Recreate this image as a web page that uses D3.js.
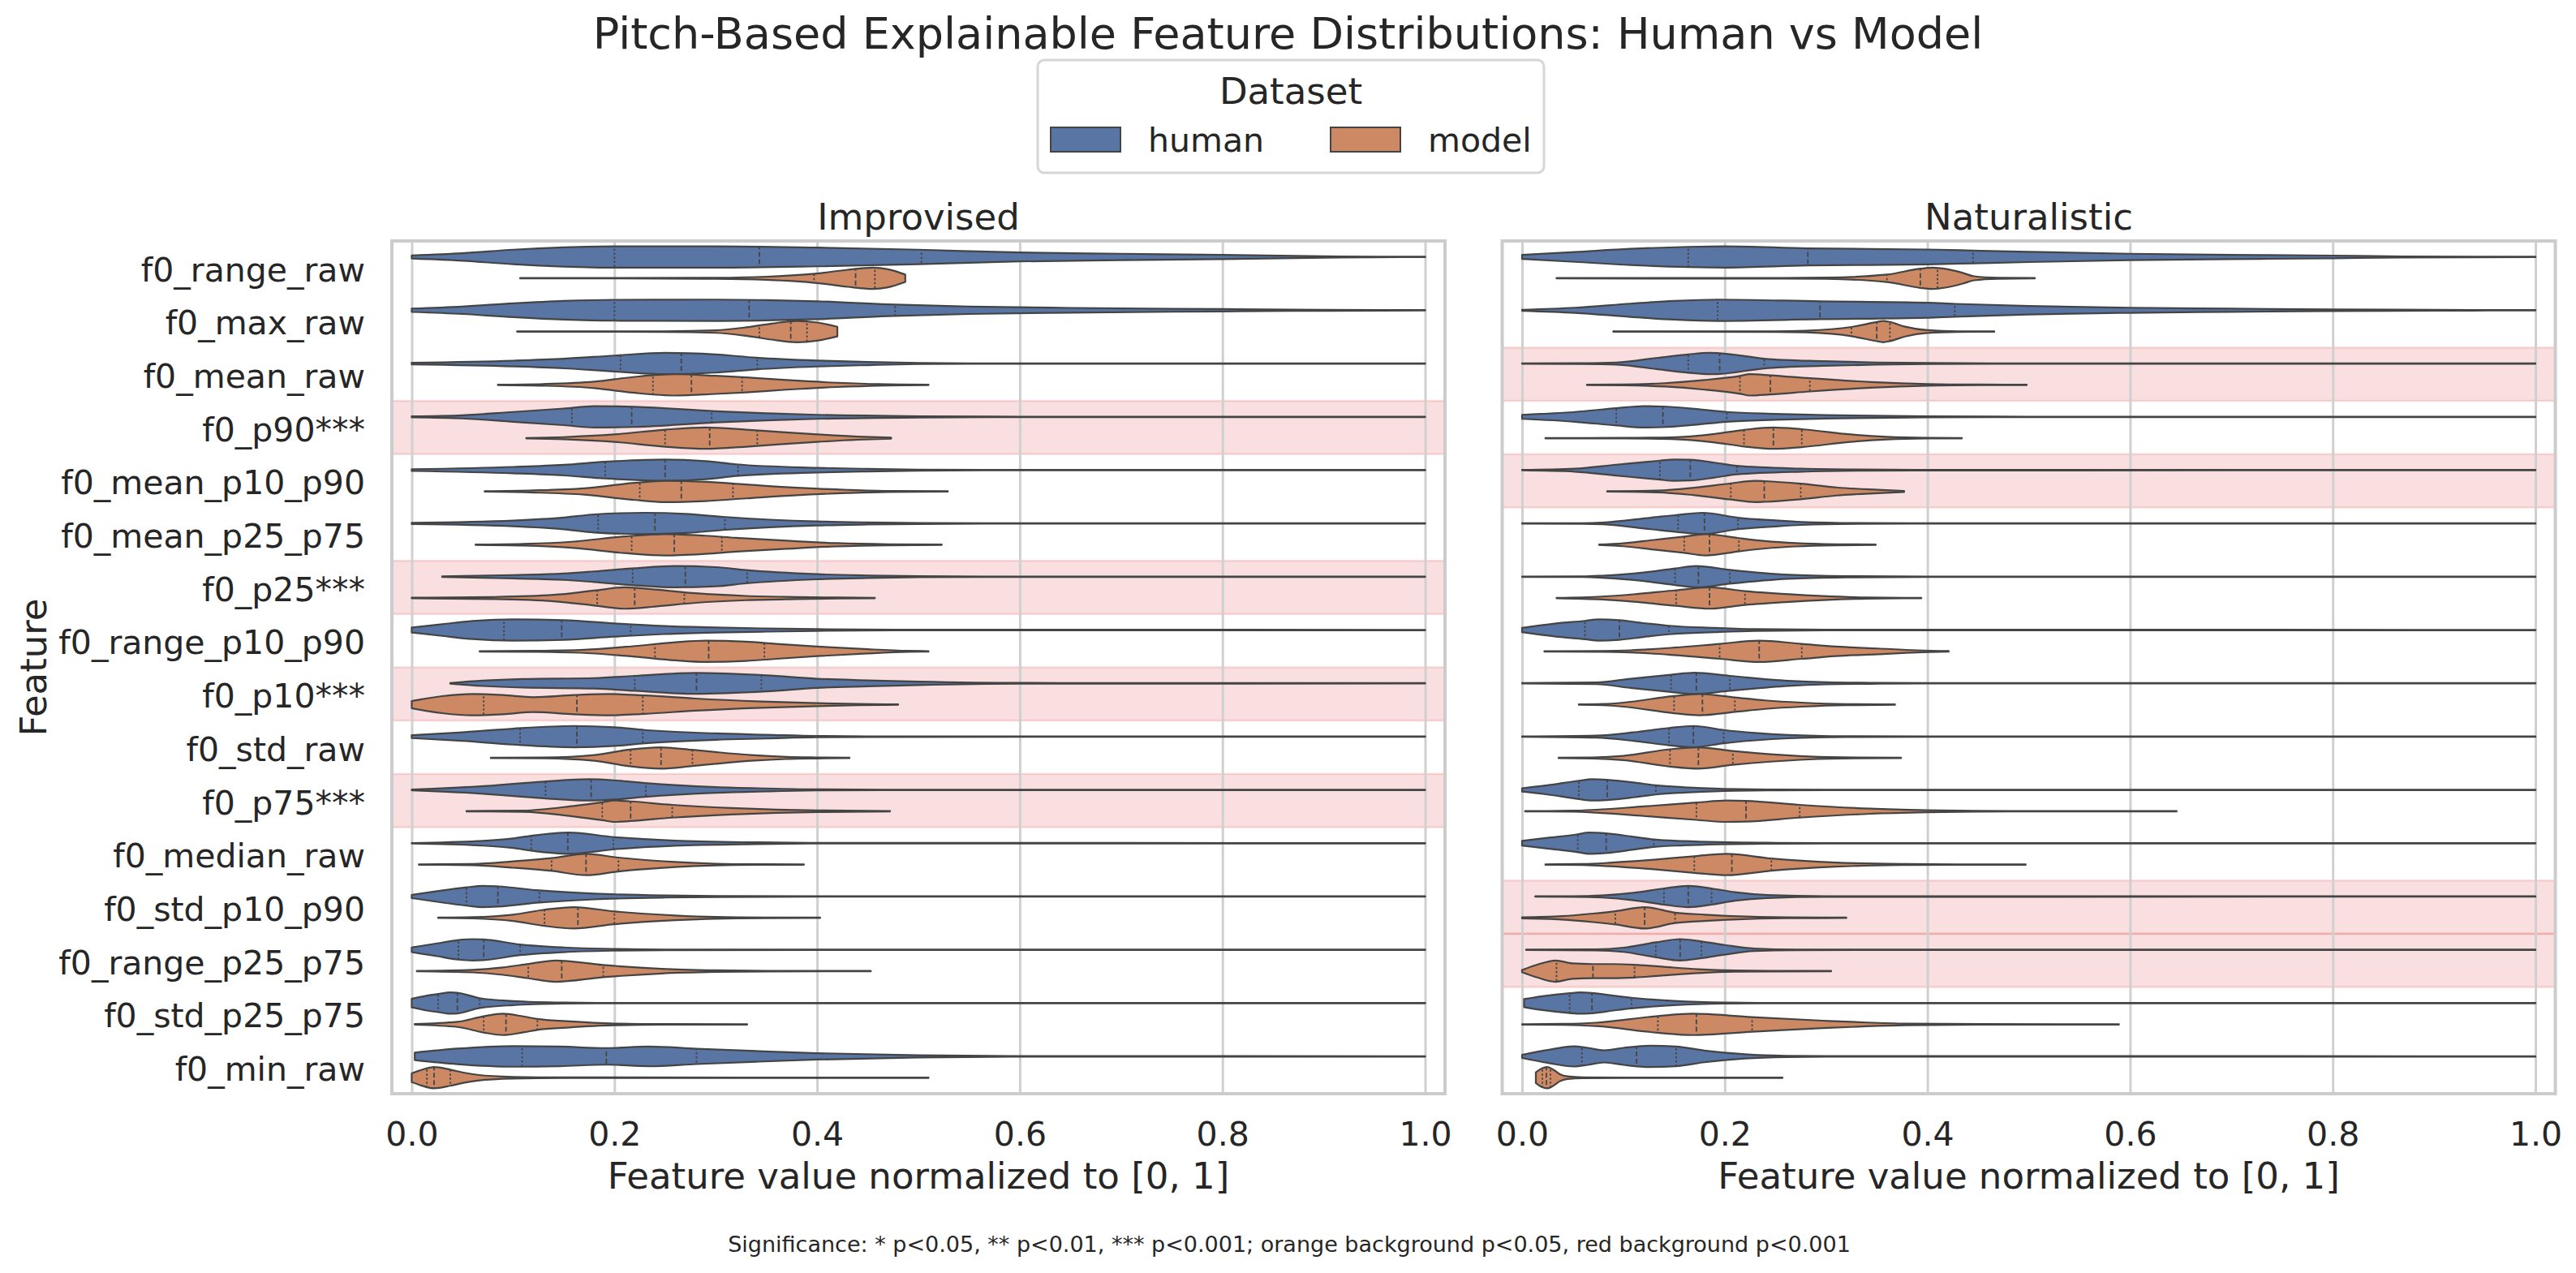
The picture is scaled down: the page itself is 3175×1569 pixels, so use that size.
<!DOCTYPE html>
<html>
<head>
<meta charset="utf-8">
<script src="https://cdn.jsdelivr.net/npm/d3@7"></script>
<style>
body { margin:0; background:#fff; }
text { font-family: "DejaVu Sans", sans-serif; fill:#262626; }
</style>
</head>
<body>
<script>
// categories
var features = ["f0_range_raw","f0_max_raw","f0_mean_raw","f0_p90","f0_mean_p10_p90","f0_mean_p25_p75",
  "f0_p25","f0_range_p10_p90","f0_p10","f0_std_raw","f0_p75","f0_median_raw","f0_std_p10_p90",
  "f0_range_p25_p75","f0_std_p25_p75","f0_min_raw"];
var tickLabels = ["f0_range_raw","f0_max_raw","f0_mean_raw","f0_p90***","f0_mean_p10_p90","f0_mean_p25_p75",
  "f0_p25***","f0_range_p10_p90","f0_p10***","f0_std_raw","f0_p75***","f0_median_raw","f0_std_p10_p90",
  "f0_range_p25_p75","f0_std_p25_p75","f0_min_raw"];
var datasets = ["human","model"];
var panels = ["Improvised","Naturalistic"];
var flaggedImprovised = ["f0_p90","f0_p25","f0_p10","f0_p75"];
var flaggedNaturalistic = ["f0_mean_raw","f0_mean_p10_p90","f0_std_p10_p90","f0_range_p25_p75"];
var xTicks = [0,0.2,0.4,0.6,0.8,1.0];

// quartiles [q1, median, q3] and density knots [value, relative width] per feature
var impHumanQuart = [[.2,.343,.503],[.2,.333,.477],[.206,.266,.341],[.158,.217,.296],[.191,.25,.322],[.184,.24,.309],
  [.218,.27,.331],[.091,.148,.216],[.22,.281,.345],[.107,.163,.228],[.132,.177,.231],[.118,.154,.199],
  [.054,.085,.126],[.046,.071,.107],[.026,.045,.067],[.109,.192,.281]];
var impHumanDens = [
  [[0,.14],[.05,.35],[.1,.68],[.15,.9],[.2,1],[.3,1],[.4,.88],[.5,.68],[.6,.42],[.7,.3],[.8,.2],[.9,.07],[.95,.03],[1,.02]],
  [[0,.16],[.05,.35],[.1,.65],[.15,.88],[.2,.98],[.3,1],[.35,.95],[.4,.84],[.47,.55],[.55,.35],[.65,.22],[.8,.11],[.9,.05],[1,.02]],
  [[0,.08],[.1,.27],[.15,.45],[.2,.75],[.25,1],[.3,.85],[.34,.55],[.4,.28],[.45,.15],[.5,.05],[.55,.02],[1,.02]],
  [[0,.05],[.05,.15],[.1,.46],[.15,.78],[.18,1],[.22,.95],[.3,.52],[.35,.33],[.4,.19],[.5,.06],[.6,.02],[1,.02]],
  [[0,.08],[.1,.3],[.15,.5],[.19,.78],[.25,1],[.29,.85],[.32,.55],[.4,.22],[.45,.12],[.5,.05],[.6,.02],[1,.02]],
  [[0,.06],[.1,.27],[.15,.55],[.18,.85],[.23,1],[.27,.9],[.31,.6],[.4,.19],[.45,.1],[.5,.05],[.6,.02],[1,.02]],
  [[.03,.03],[.1,.16],[.15,.3],[.18,.5],[.22,.8],[.26,1],[.3,.9],[.33,.62],[.4,.24],[.45,.12],[.5,.05],[.6,.02],[1,.02]],
  [[0,.24],[.03,.55],[.06,.85],[.1,1],[.15,.92],[.2,.62],[.25,.38],[.3,.24],[.35,.15],[.4,.08],[.5,.03],[1,.02]],
  [[.038,.03],[.07,.25],[.11,.4],[.18,.49],[.22,.7],[.28,.98],[.35,.75],[.4,.43],[.45,.28],[.5,.16],[.6,.04],[1,.02]],
  [[0,.14],[.05,.4],[.1,.75],[.16,1],[.2,.88],[.23,.62],[.3,.3],[.35,.18],[.4,.06],[.45,.03],[1,.02]],
  [[0,.04],[.065,.32],[.13,.78],[.175,1],[.2,.9],[.23,.65],[.3,.27],[.35,.14],[.4,.05],[.5,.02],[1,.02]],
  [[0,.02],[.065,.2],[.1,.45],[.118,.7],[.155,1],[.2,.57],[.26,.24],[.34,.08],[.4,.03],[1,.02]],
  [[0,.15],[.025,.5],[.054,.86],[.07,1],[.085,.95],[.126,.57],[.18,.27],[.25,.1],[.3,.05],[.4,.02],[1,.02]],
  [[0,.22],[.025,.6],[.046,.92],[.06,1],[.071,.97],[.107,.5],[.15,.22],[.2,.08],[.25,.03],[1,.02]],
  [[0,.4],[.015,.7],[.026,.85],[.038,1],[.045,.97],[.067,.46],[.1,.19],[.15,.05],[.2,.02],[1,.02]],
  [[.003,.35],[.045,.73],[.1,.97],[.146,.92],[.192,.78],[.234,.92],[.281,.72],[.34,.5],[.4,.3],[.5,.11],[.6,.03],[1,.02]]
];
var impModelQuart = [[.397,.438,.457],[.343,.374,.39],[.238,.276,.326],[.25,.294,.341],[.225,.266,.317],[.217,.259,.306],
  [.183,.22,.269],[.24,.293,.348],[.071,.163,.228],[.216,.246,.277],[.188,.216,.257],[.138,.172,.204],
  [.131,.164,.2],[.115,.148,.189],[.071,.093,.124],[.015,.022,.038]];
var impModelDens = [
  [[.107,.02],[.2,.02],[.3,.05],[.35,.15],[.4,.45],[.43,.8],[.455,1],[.47,.85],[.487,.35]],
  [[.104,.02],[.25,.03],[.3,.12],[.33,.4],[.355,.75],[.38,1],[.4,.85],[.42,.45]],
  [[.085,.02],[.13,.08],[.18,.3],[.22,.75],[.26,1],[.3,.85],[.33,.7],[.37,.45],[.42,.2],[.46,.07],[.51,.02]],
  [[.113,.02],[.15,.1],[.2,.35],[.25,.8],[.29,1],[.33,.8],[.36,.6],[.4,.35],[.44,.15],[.473,.05]],
  [[.072,.02],[.12,.1],[.17,.3],[.22,.8],[.25,1],[.29,.9],[.33,.65],[.38,.35],[.43,.15],[.47,.05],[.529,.02]],
  [[.063,.02],[.11,.08],[.16,.3],[.21,.78],[.25,1],[.29,.85],[.32,.65],[.37,.38],[.42,.15],[.47,.05],[.523,.02]],
  [[0,.03],[.08,.1],[.14,.3],[.18,.7],[.21,1],[.24,.8],[.28,.45],[.33,.2],[.38,.1],[.42,.05],[.457,.02]],
  [[.067,.02],[.12,.05],[.17,.15],[.22,.5],[.26,.85],[.29,1],[.33,.9],[.36,.7],[.4,.45],[.45,.2],[.49,.05],[.51,.02]],
  [[0,.34],[.03,.8],[.06,1],[.09,.9],[.12,.7],[.16,.9],[.195,1],[.23,.86],[.28,.57],[.345,.3],[.4,.14],[.44,.06],[.48,.02]],
  [[.078,.02],[.13,.04],[.18,.27],[.215,.78],[.245,1],[.277,.76],[.3,.55],[.335,.27],[.37,.1],[.4,.05],[.432,.02]],
  [[.054,.02],[.11,.06],[.16,.5],[.188,.84],[.2,1],[.216,.92],[.257,.6],[.315,.3],[.36,.15],[.4,.08],[.472,.02]],
  [[.007,.02],[.06,.06],[.1,.3],[.138,.6],[.172,1],[.204,.65],[.26,.24],[.3,.08],[.34,.03],[.387,.02]],
  [[.026,.02],[.06,.06],[.1,.3],[.131,.76],[.16,1],[.2,.6],[.26,.22],[.3,.08],[.35,.03],[.403,.02]],
  [[.005,.02],[.06,.12],[.09,.35],[.115,.67],[.142,1],[.189,.57],[.247,.22],[.3,.08],[.35,.03],[.453,.02]],
  [[.003,.03],[.045,.24],[.071,.76],[.09,1],[.11,.75],[.124,.51],[.153,.3],[.2,.08],[.25,.03],[.331,.02]],
  [[0,.41],[.01,.75],[.022,1],[.038,.76],[.05,.5],[.065,.27],[.1,.08],[.15,.03],[.51,.02]]
];
var natHumanQuart = [[.164,.282,.445],[.193,.294,.427],[.164,.195,.239],[.093,.139,.202],[.136,.166,.212],[.154,.18,.213],
  [.151,.174,.205],[.062,.096,.145],[.147,.172,.205],[.145,.169,.199],[.056,.084,.132],[.055,.083,.13],
  [.14,.164,.187],[.132,.156,.177],[.047,.069,.108],[.059,.113,.152]];
var natHumanDens = [
  [[0,.19],[.052,.46],[.107,.76],[.164,.95],[.2,1],[.282,.8],[.4,.7],[.445,.6],[.5,.48],[.6,.3],[.7,.2],[.8,.13],[.87,.05],[1,.02]],
  [[0,.05],[.052,.24],[.107,.62],[.15,.88],[.193,1],[.294,.84],[.4,.7],[.427,.6],[.5,.4],[.6,.24],[.7,.15],[.8,.08],[.9,.04],[1,.02]],
  [[0,.02],[.06,.04],[.093,.1],[.134,.54],[.164,.86],[.185,1],[.195,.97],[.239,.46],[.297,.22],[.35,.1],[.4,.05],[.5,.02],[1,.02]],
  [[0,.19],[.052,.46],[.093,.81],[.12,1],[.139,.97],[.17,.75],[.202,.46],[.25,.28],[.3,.16],[.4,.05],[.5,.02],[1,.02]],
  [[0,.02],[.052,.14],[.093,.51],[.136,.89],[.15,1],[.166,.97],[.19,.7],[.212,.4],[.276,.14],[.33,.06],[.4,.03],[1,.02]],
  [[0,.02],[.06,.03],[.079,.08],[.127,.54],[.154,.81],[.178,1],[.213,.54],[.25,.28],[.276,.14],[.33,.04],[.4,.02],[1,.02]],
  [[0,.02],[.06,.03],[.079,.1],[.12,.4],[.151,.78],[.172,1],[.205,.65],[.263,.19],[.32,.06],[.4,.02],[1,.02]],
  [[0,.2],[.032,.6],[.062,.86],[.076,1],[.096,.92],[.12,.65],[.145,.4],[.19,.2],[.229,.08],[.3,.03],[1,.02]],
  [[0,.02],[.073,.08],[.107,.43],[.147,.81],[.17,1],[.205,.7],[.263,.24],[.3,.1],[.344,.05],[.4,.02],[1,.02]],
  [[0,.02],[.073,.1],[.11,.4],[.145,.81],[.169,1],[.199,.62],[.23,.35],[.263,.16],[.32,.04],[.4,.02],[1,.02]],
  [[0,.16],[.025,.43],[.056,.86],[.069,1],[.084,.95],[.11,.7],[.132,.43],[.16,.25],[.195,.11],[.25,.04],[.3,.02],[1,.02]],
  [[0,.22],[.025,.5],[.055,.84],[.066,1],[.083,.92],[.11,.6],[.13,.35],[.16,.2],[.195,.1],[.25,.04],[.3,.02],[1,.02]],
  [[.013,.02],[.05,.03],[.079,.1],[.11,.35],[.14,.76],[.164,1],[.187,.76],[.21,.4],[.242,.14],[.3,.03],[1,.02]],
  [[.004,.02],[.073,.05],[.1,.2],[.132,.7],[.156,1],[.177,.78],[.2,.45],[.229,.12],[.27,.03],[1,.02]],
  [[.002,.38],[.02,.65],[.047,.93],[.057,1],[.069,.95],[.09,.7],[.108,.5],[.15,.2],[.2,.05],[.25,.02],[1,.02]],
  [[0,.15],[.025,.6],[.051,.95],[.065,.8],[.081,.57],[.1,.8],[.126,1],[.152,.92],[.18,.55],[.22,.2],[.26,.06],[.3,.03],[1,.02]]
];
var natModelQuart = [[.36,.393,.41],[.325,.35,.363],[.215,.245,.284],[.219,.248,.276],[.206,.239,.275],[.16,.185,.214],
  [.152,.185,.22],[.195,.234,.276],[.15,.178,.21],[.146,.174,.208],[.172,.221,.274],[.17,.207,.246],
  [.092,.121,.151],[.034,.07,.111],[.134,.172,.227],[.02,.024,.028]];
var natModelDens = [
  [[.034,.02],[.25,.03],[.3,.06],[.36,.35],[.393,.9],[.405,1],[.419,.86],[.435,.5],[.446,.19],[.47,.05],[.506,.02]],
  [[.09,.02],[.25,.03],[.28,.08],[.325,.43],[.35,.9],[.356,1],[.363,.9],[.378,.46],[.4,.13],[.43,.03],[.466,.02]],
  [[.064,.02],[.1,.04],[.141,.16],[.18,.45],[.215,.84],[.225,1],[.245,.9],[.284,.62],[.344,.27],[.4,.08],[.45,.03],[.498,.02]],
  [[.023,.02],[.1,.03],[.147,.08],[.19,.4],[.219,.78],[.248,1],[.276,.84],[.324,.35],[.36,.12],[.4,.03],[.434,.02]],
  [[.084,.02],[.134,.08],[.17,.35],[.206,.76],[.23,1],[.239,.97],[.275,.73],[.31,.38],[.351,.16],[.377,.05]],
  [[.076,.02],[.1,.14],[.13,.45],[.16,.76],[.181,1],[.214,.62],[.24,.35],[.27,.16],[.31,.05],[.349,.02]],
  [[.034,.02],[.079,.14],[.11,.35],[.152,.73],[.185,1],[.22,.65],[.26,.38],[.297,.19],[.34,.06],[.394,.02]],
  [[.022,.02],[.08,.04],[.107,.1],[.15,.35],[.195,.7],[.234,1],[.276,.7],[.31,.45],[.351,.27],[.39,.1],[.421,.03]],
  [[.056,.02],[.08,.06],[.1,.19],[.15,.81],[.175,1],[.21,.68],[.24,.4],[.276,.19],[.32,.05],[.368,.02]],
  [[.036,.02],[.07,.05],[.1,.2],[.146,.81],[.174,1],[.208,.65],[.245,.35],[.283,.14],[.33,.04],[.374,.02]],
  [[.003,.02],[.05,.05],[.073,.14],[.12,.45],[.172,.81],[.202,1],[.221,.97],[.274,.6],[.344,.24],[.4,.1],[.446,.04],[.5,.02],[.646,.02]],
  [[.023,.02],[.06,.05],[.086,.16],[.13,.45],[.17,.78],[.202,1],[.246,.57],[.31,.19],[.378,.05],[.43,.02],[.497,.02]],
  [[0,.05],[.039,.16],[.07,.4],[.092,.62],[.121,1],[.151,.49],[.18,.3],[.208,.16],[.26,.04],[.32,.02]],
  [[0,.1],[.015,.6],[.033,1],[.05,.72],[.07,.66],[.09,.66],[.111,.6],[.14,.4],[.174,.18],[.21,.06],[.25,.03],[.305,.02]],
  [[0,.02],[.04,.05],[.073,.16],[.134,.78],[.168,1],[.227,.68],[.297,.35],[.34,.18],[.378,.08],[.45,.03],[.589,.02]],
  [[.0136,.5],[.019,.85],[.025,1],[.031,.75],[.037,.35],[.045,.12],[.06,.04],[.1,.02],[.257,.02]]
];

var series = {
  Improvised: {human: {q: impHumanQuart, d: impHumanDens}, model: {q: impModelQuart, d: impModelDens}},
  Naturalistic: {human: {q: natHumanQuart, d: natHumanDens}, model: {q: natModelQuart, d: natModelDens}}
};
var flagged = {Improvised: flaggedImprovised, Naturalistic: flaggedNaturalistic};

var W = 3175, H = 1569;
var plotTop = 297, plotBottom = 1348, pw = 1298;
var panelX = [483, 1851.5];
var colors = {human: "#5875a4", model: "#cc8963"};
var edge = "#444444";

var svg = d3.select("body").append("svg")
  .attr("width", W).attr("height", H);
var defs = svg.append("defs");

var y = d3.scaleBand().domain(features).range([plotTop, plotBottom]);
var yHue = d3.scaleBand().domain(datasets)
  .range([0.1 * y.bandwidth(), 0.9 * y.bandwidth()]);
var half = yHue.bandwidth() / 2;

panels.forEach(function(p, pi) {
  var x = d3.scaleLinear().domain([-0.0196, 1.0196]).range([panelX[pi], panelX[pi] + pw]);
  var g = svg.append("g");

  // significance bands
  g.selectAll("rect.sig")
    .data(flagged[p])
    .enter().append("rect")
    .attr("class", "sig")
    .attr("x", panelX[pi])
    .attr("width", pw)
    .attr("y", function(d) { return y(d); })
    .attr("height", y.bandwidth())
    .attr("fill", "#d62728").attr("fill-opacity", 0.15)
    .attr("stroke", "#d62728").attr("stroke-opacity", 0.15)
    .attr("stroke-width", 2.5);

  // vertical grid
  g.append("g")
    .attr("transform", "translate(0," + plotBottom + ")")
    .call(d3.axisBottom(x).tickValues(xTicks).tickSize(-(plotBottom - plotTop)).tickFormat(""))
    .call(function(a) { a.select(".domain").remove(); })
    .selectAll("line").attr("stroke", "#d0d0d0").attr("stroke-width", 3);

  // violins
  var vg = g.append("g");
  datasets.forEach(function(ds) {
    var s = series[p][ds];
    features.forEach(function(f, i) {
      var cy = y(f) + yHue(ds) + half;
      var area = d3.area().curve(d3.curveMonotoneX)
        .x(function(d) { return x(d[0]); })
        .y0(function(d) { return cy - d[1] * half; })
        .y1(function(d) { return cy + d[1] * half; });
      var shape = area(s.d[i]);
      var id = "clip-" + pi + "-" + ds + "-" + i;
      defs.append("clipPath").attr("id", id).append("path").attr("d", shape);

      vg.append("path").attr("d", shape).attr("fill", colors[ds]);
      vg.append("g").attr("clip-path", "url(#" + id + ")")
        .selectAll("line")
        .data(s.q[i])
        .enter().append("line")
        .attr("x1", function(d) { return x(d); })
        .attr("x2", function(d) { return x(d); })
        .attr("y1", cy - half - 2)
        .attr("y2", cy + half + 2)
        .attr("stroke", edge)
        .attr("stroke-width", 1.8)
        .attr("stroke-dasharray", function(d, k) { return k == 1 ? "6,3" : "2.5,2.5"; });
      vg.append("path").attr("d", shape)
        .attr("fill", "none")
        .attr("stroke", edge)
        .attr("stroke-width", 2.2)
        .attr("stroke-linejoin", "round");
    });
  });

  // frame
  g.append("rect")
    .attr("x", panelX[pi]).attr("y", plotTop)
    .attr("width", pw).attr("height", plotBottom - plotTop)
    .attr("fill", "none").attr("stroke", "#cccccc").attr("stroke-width", 4);

  // x tick labels
  g.append("g")
    .attr("transform", "translate(0," + plotBottom + ")")
    .call(d3.axisBottom(x).tickValues(xTicks).tickSize(0).tickPadding(35).tickFormat(d3.format(".1f")))
    .attr("font-size", 41)
    .call(function(a) { a.select(".domain").remove(); });

  // panel title
  g.append("text")
    .attr("x", panelX[pi] + pw / 2).attr("y", 283)
    .attr("text-anchor", "middle").attr("font-size", 45)
    .text(p);

  // x axis label
  g.append("text")
    .attr("x", panelX[pi] + pw / 2).attr("y", 1465)
    .attr("text-anchor", "middle").attr("font-size", 45)
    .text("Feature value normalized to [0, 1]");
});

// y tick labels (shared)
svg.append("g")
  .attr("transform", "translate(" + panelX[0] + ",0)")
  .call(d3.axisLeft(y).tickSize(0).tickPadding(33).tickFormat(function(d, i) { return tickLabels[i]; }))
  .attr("font-size", 41)
  .call(function(a) { a.select(".domain").remove(); })
  .selectAll("text").attr("dy", "0.41em");

svg.append("text")
  .attr("transform", "translate(57," + (plotTop + plotBottom) / 2 + ") rotate(-90)")
  .attr("text-anchor", "middle").attr("font-size", 45)
  .text("Feature");

// title
svg.append("text")
  .attr("x", W / 2).attr("y", 60)
  .attr("text-anchor", "middle").attr("font-size", 54)
  .text("Pitch-Based Explainable Feature Distributions: Human vs Model");

// legend
var leg = svg.append("g");
leg.append("rect")
  .attr("x", 1279).attr("y", 74).attr("width", 624).attr("height", 139).attr("rx", 8)
  .attr("fill", "#fff").attr("stroke", "#d6d6d6").attr("stroke-width", 3);
leg.append("text")
  .attr("x", 1591).attr("y", 128).attr("text-anchor", "middle").attr("font-size", 45)
  .text("Dataset");
var legX = d3.scaleOrdinal().domain(datasets).range([1295, 1640]);
var items = leg.selectAll("g.item")
  .data(datasets)
  .enter().append("g")
  .attr("class", "item")
  .attr("transform", function(d) { return "translate(" + legX(d) + ",157)"; });
items.append("rect")
  .attr("width", 86).attr("height", 30)
  .attr("fill", function(d) { return colors[d]; })
  .attr("stroke", edge).attr("stroke-width", 2);
items.append("text")
  .attr("x", 120).attr("y", 30).attr("font-size", 41)
  .text(function(d) { return d; });

// footnote
svg.append("text")
  .attr("x", 1589).attr("y", 1543)
  .attr("text-anchor", "middle").attr("font-size", 27)
  .text("Significance: * p<0.05, ** p<0.01, *** p<0.001; orange background p<0.05, red background p<0.001");
</script>
</body>
</html>
